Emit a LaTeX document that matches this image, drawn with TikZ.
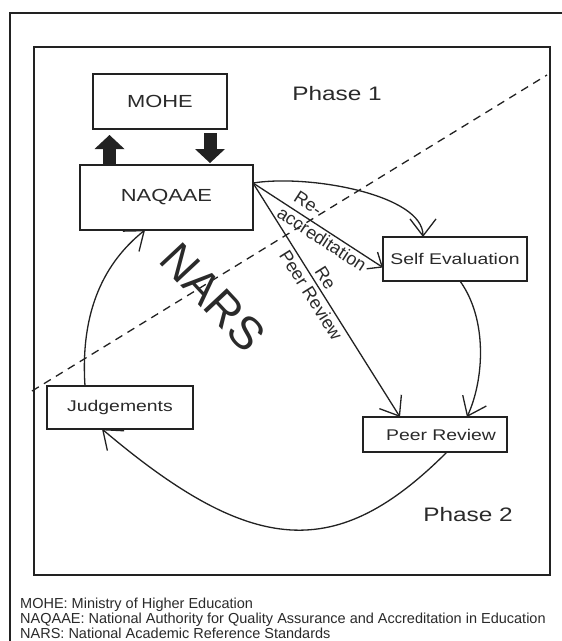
\documentclass[tikz,border=0pt]{standalone}
\usepackage{graphicx}
\usepackage{fontspec}
\setmainfont{Liberation Sans}
\usetikzlibrary{arrows.meta}
\newcommand{\hstr}[1]{\scalebox{1.25}[1]{#1}}
\definecolor{ink}{HTML}{222222}
\definecolor{txt}{HTML}{2A2A2A}
\begin{document}
\begin{tikzpicture}[x=1pt,y=-1pt,
  every node/.style={text=txt},
  frame/.style={draw=ink, line width=1.3pt},
  box/.style={draw=ink, line width=1.4pt, inner sep=0pt, outer sep=0pt, font=\fontsize{15.5}{18}\selectfont},
  bigbox/.style={box, font=\fontsize{17.5}{20}\selectfont},
  conn/.style={draw=ink, line width=1.3pt},
  arr/.style={conn, -{Straight Barb[length=12pt,width=20pt,line width=1.3pt]}},
  bigarr/.style={conn, -{Straight Barb[length=17pt,width=26pt,line width=1.3pt]}},
  blockarr/.style={draw=ink, line width=13pt, -{Triangle[length=14pt,width=30pt,line width=0pt]}},
  lbl/.style={font=\fontsize{18}{20}\selectfont, inner sep=1pt},
  phase/.style={font=\fontsize{19.5}{22}\selectfont},
  foot/.style={anchor=base west, font=\fontsize{14.5}{17}\selectfont, inner sep=0pt},
]
\useasboundingbox (0,0) rectangle (562,641);
\fill[white] (0,0) rectangle (562,641);
% frames
\draw[frame] (10,660) -- (10,13) -- (580,13);
\draw[frame] (34,47) rectangle (550,575);
% dashed divider
\draw[conn, dash pattern=on 8pt off 6pt] (32,391) -- (547,75);
% boxes
\node[bigbox, minimum width=134pt, minimum height=55pt] (mo) at (160,101.5) {\hstr{MOHE}\hspace{21pt}};
\node[bigbox, minimum width=173pt, minimum height=65pt] (na) at (166.5,197.5) {\hstr{NAQAAE}\hspace{17pt}};
\node[box, minimum width=144pt, minimum height=44pt] (se) at (455,259) {\hstr{Self Evaluation}};
\node[box, minimum width=144pt, minimum height=35pt] (pr) at (435,434.5) {\hspace{12pt}\hstr{Peer Review}};
\node[box, minimum width=146pt, minimum height=43pt] (jd) at (120,407.5) {\hstr{Judgements}\hspace{7pt}};
% phase labels and NARS
\node[phase] (ph1) at (337,93.5) {\hstr{Phase 1}};
\node[phase] (ph2) at (468,515) {\hstr{Phase 2}};
\node[font=\fontsize{46}{50}\selectfont, rotate=-47] (nars) at (213,297) {NARS};
% block arrows
\coordinate (upx) at ([xshift=-57pt]na.north);
\coordinate (dnx) at ([xshift=50pt]mo.south);
\draw[blockarr, shorten >=6pt] (upx) -- (upx |- mo.south);
\draw[blockarr, shorten <=4pt, shorten >=2pt] (dnx) -- (dnx |- na.north);
% connectors
\coordinate (nae) at ([yshift=-18pt]na.north east);
\draw[bigarr] (nae) .. controls +(57,-9) and +(0,-42) .. ([xshift=-32pt]se.north);
\draw[arr] (nae) -- ([yshift=-8.5pt]se.west)
  node[lbl, sloped, above=5pt, pos=0.37] (l1) {Re-}
  node[lbl, sloped, below=1pt, pos=0.57] (l2) {accreditation};
\draw[bigarr] (nae) -- ([xshift=-35pt]pr.north)
  node[lbl, sloped, above=3pt, pos=0.43] (l3) {Re}
  node[lbl, sloped, below=2pt, pos=0.455] (l4) {Peer Review};
\draw[bigarr] ([xshift=5pt]se.south) .. controls +(28,39) and +(17,-37) .. ([xshift=32pt]pr.north);
\draw[bigarr] ([xshift=12pt]pr.south) .. controls +(-110,110) and +(151,128) .. ([xshift=-18pt]jd.south);
\draw[bigarr] ([xshift=-35pt]jd.north) .. controls +(-5,-76) and +(-40,32) .. ([xshift=-21.5pt]na.south);
% footer
\node[foot] (f1) at (20,608.5) {MOHE: Ministry of Higher Education};
\node[foot] (f2) at (20,623.5) {NAQAAE: National Authority for Quality Assurance and Accreditation in Education};
\node[foot] (f3) at (20,638.5) {NARS: National Academic Reference Standards};
\end{tikzpicture}
\end{document}
